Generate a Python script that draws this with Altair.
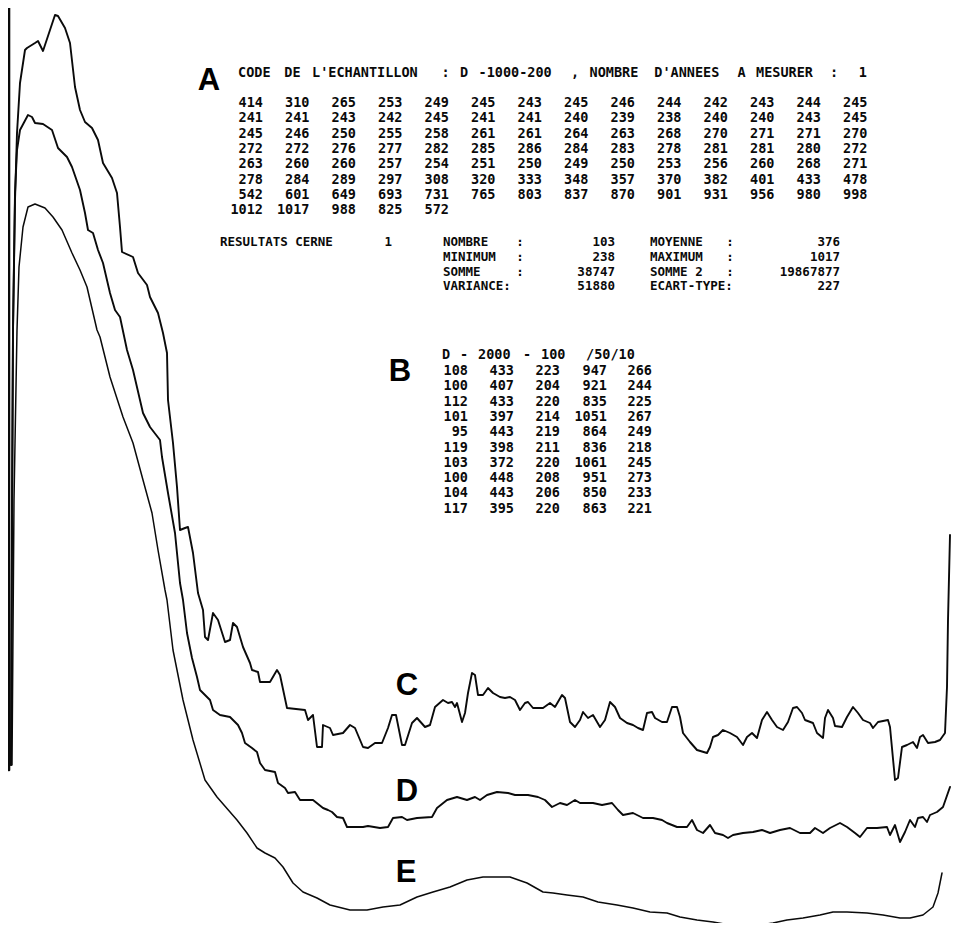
import re
import altair as alt
import pandas as pd

# ---------------- data ----------------
# densitometer traces: (position along the sample, pen position on the chart paper, counted downward)
trace_C = [(11, 765), (12, 500), (13, 330), (15, 200), (17, 133), (20, 83), (25, 50), (27, 48), (35, 43),
           (38, 41), (43, 51), (50, 30), (55, 15), (58, 16), (65, 28), (70, 43), (75, 87), (80, 110),
           (85, 122), (92, 128), (98, 140), (103, 163), (112, 178), (117, 193), (120, 227), (122, 252),
           (133, 257), (138, 273), (147, 285), (150, 297), (158, 313), (163, 333), (167, 353), (168, 400),
           (173, 443), (177, 487), (180, 530), (185, 528), (188, 527), (193, 553), (198, 593), (203, 610),
           (205, 637), (208, 640), (213, 613), (218, 620), (225, 642), (230, 640), (233, 623), (237, 627),
           (243, 647), (250, 663), (252, 670), (258, 672), (260, 682), (270, 682), (277, 670), (280, 675),
           (287, 708), (305, 710), (308, 720), (313, 715), (317, 747), (322, 747), (323, 725), (330, 728),
           (333, 735), (343, 733), (350, 725), (355, 728), (363, 747), (368, 748), (375, 743), (382, 743),
           (388, 728), (392, 715), (396, 715), (402, 745), (405, 745), (412, 723), (417, 718), (425, 727),
           (430, 725), (435, 707), (443, 700), (448, 703), (452, 702), (455, 707), (457, 703), (462, 722),
           (465, 713), (468, 693), (472, 673), (475, 675), (478, 695), (483, 695), (488, 688), (493, 693),
           (500, 697), (505, 698), (510, 697), (515, 700), (520, 710), (525, 703), (528, 702), (533, 708),
           (543, 708), (550, 703), (555, 707), (562, 695), (565, 698), (570, 722), (575, 727), (580, 720),
           (583, 712), (588, 718), (593, 715), (600, 727), (605, 720), (610, 702), (615, 707), (620, 718),
           (627, 723), (633, 725), (638, 728), (643, 730), (647, 713), (652, 712), (655, 718), (662, 722),
           (667, 722), (672, 707), (677, 707), (680, 717), (683, 733), (690, 742), (697, 750), (707, 753),
           (710, 747), (713, 737), (718, 735), (723, 730), (730, 733), (737, 737), (743, 745), (747, 737),
           (752, 733), (757, 738), (762, 720), (767, 712), (772, 720), (777, 727), (783, 730), (788, 722),
           (793, 708), (797, 707), (802, 713), (805, 720), (813, 723), (817, 733), (823, 738), (825, 718),
           (828, 710), (833, 718), (835, 726), (842, 727), (847, 717), (853, 707), (858, 713), (863, 720),
           (870, 723), (873, 728), (878, 722), (888, 720), (890, 727), (895, 780), (898, 778), (902, 747),
           (907, 745), (913, 742), (917, 748), (920, 737), (923, 735), (928, 743), (935, 742), (940, 740),
           (945, 733), (947, 687), (948, 620), (950, 535)]

trace_D = [(11, 765), (13, 330), (15, 193), (17, 150), (20, 130), (28, 115), (32, 117), (35, 123), (43, 124),
           (52, 130), (58, 148), (67, 157), (72, 167), (80, 190), (85, 213), (88, 230), (93, 233), (98, 250),
           (103, 263), (110, 293), (115, 310), (120, 317), (127, 350), (133, 370), (143, 413), (150, 427),
           (160, 440), (162, 457), (168, 493), (175, 533), (180, 583), (183, 600), (187, 633), (192, 658),
           (197, 677), (200, 690), (210, 700), (213, 710), (220, 715), (230, 717), (238, 725), (242, 733),
           (245, 743), (252, 748), (257, 752), (260, 763), (265, 770), (275, 772), (278, 783), (285, 788),
           (288, 793), (295, 792), (300, 800), (313, 800), (323, 808), (328, 810), (332, 812), (337, 817),
           (343, 818), (347, 827), (357, 827), (363, 827), (368, 826), (380, 828), (388, 827), (393, 818),
           (402, 817), (407, 820), (417, 818), (432, 817), (437, 808), (447, 800), (457, 797), (467, 800),
           (475, 797), (480, 800), (487, 795), (497, 792), (508, 793), (515, 795), (528, 795), (538, 797),
           (545, 800), (552, 807), (560, 803), (567, 805), (575, 800), (580, 803), (593, 803), (602, 805),
           (612, 803), (618, 810), (623, 815), (633, 813), (643, 818), (653, 818), (662, 820), (667, 823),
           (677, 827), (687, 827), (692, 820), (697, 830), (703, 833), (710, 825), (715, 833), (723, 835),
           (728, 838), (733, 835), (743, 833), (753, 832), (762, 830), (770, 833), (780, 830), (790, 828),
           (800, 833), (810, 833), (815, 828), (823, 833), (830, 828), (840, 823), (847, 827), (855, 833),
           (860, 837), (867, 828), (877, 828), (887, 827), (890, 835), (895, 825), (900, 842), (905, 832),
           (910, 820), (915, 827), (918, 818), (923, 817), (927, 822), (930, 815), (937, 812), (943, 807),
           (950, 787)]

trace_E = [(12, 765), (14, 500), (17, 330), (19, 267), (23, 227), (28, 207), (35, 204), (45, 208), (53, 217),
           (62, 230), (72, 253), (80, 270), (87, 287), (97, 330), (100, 337), (110, 377), (123, 417),
           (133, 443), (143, 480), (152, 513), (158, 550), (165, 590), (167, 600), (173, 650), (183, 700),
           (193, 740), (205, 780), (217, 797), (237, 820), (247, 833), (257, 848), (265, 853), (275, 858),
           (283, 867), (293, 883), (303, 892), (317, 898), (330, 905), (350, 910), (367, 910), (383, 907),
           (400, 905), (417, 897), (433, 892), (450, 887), (467, 880), (483, 877), (510, 877), (527, 883),
           (543, 892), (553, 893), (567, 895), (583, 897), (598, 902), (617, 905), (633, 908), (650, 912),
           (667, 913), (680, 917), (697, 920), (713, 922), (730, 925), (743, 925), (760, 925), (773, 923),
           (787, 920), (803, 918), (820, 915), (833, 912), (847, 912), (867, 913), (883, 915), (900, 918),
           (910, 918), (923, 915), (933, 907), (938, 893), (942, 873)]

start_marker = [(9, 8), (9, 770)]

# printed listing (A)
A_header = "CODE DE L'ECHANTILLON : D -1000-200 , NOMBRE D'ANNEES A MESURER :"
A_header_value = "1"
A_values = [
    [414, 310, 265, 253, 249, 245, 243, 245, 246, 244, 242, 243, 244, 245],
    [241, 241, 243, 242, 245, 241, 241, 240, 239, 238, 240, 240, 243, 245],
    [245, 246, 250, 255, 258, 261, 261, 264, 263, 268, 270, 271, 271, 270],
    [272, 272, 276, 277, 282, 285, 286, 284, 283, 278, 281, 281, 280, 272],
    [263, 260, 260, 257, 254, 251, 250, 249, 250, 253, 256, 260, 268, 271],
    [278, 284, 289, 297, 308, 320, 333, 348, 357, 370, 382, 401, 433, 478],
    [542, 601, 649, 693, 731, 765, 803, 837, 870, 901, 931, 956, 980, 998],
    [1012, 1017, 988, 825, 572],
]
res_title = "RESULTATS CERNE"
res_ring = "1"
res_left_labels = ["NOMBRE", "MINIMUM", "SOMME", "VARIANCE:"]
res_left_colons = [":", ":", ":", ""]
res_left_values = ["103", "238", "38747", "51880"]
res_right_labels = ["MOYENNE", "MAXIMUM", "SOMME 2", "ECART-TYPE:"]
res_right_colons = [":", ":", ":", ""]
res_right_values = ["376", "1017", "19867877", "227"]

# printed listing (B)
B_header = "D - 2000 - 100  /50/10"
B_values = [
    [108, 433, 223, 947, 266],
    [100, 407, 204, 921, 244],
    [112, 433, 220, 835, 225],
    [101, 397, 214, 1051, 267],
    [95, 443, 219, 864, 249],
    [119, 398, 211, 836, 218],
    [103, 372, 220, 1061, 245],
    [100, 448, 208, 951, 273],
    [104, 443, 206, 850, 233],
    [117, 395, 220, 863, 221],
]
panel_letters = ["A", "B", "C", "D", "E"]

# ---------------- layout (positions on the sheet) ----------------
PITCH = 9.25
A_head_x, A_head_y, A_head_val_x = 238, 73, 867
A_col0, A_col_step, A_row0, A_row_step = 263, 46.5, 103, 15.35
RES_x, RES_ring_x, RES_rows = 220, 392, [242, 257, 272, 286]
RES_L_label, RES_L_colon, RES_L_val = 443, 520, 615
RES_R_label, RES_R_colon, RES_R_val = 650, 730, 840
B_head_x, B_head_y, B_pitch = 442, 355, 9.0
B_cols, B_row0, B_row_step = [468, 514, 560, 607, 652], 371, 15.3
letter_pos = [(209, 81), (400, 372), (407, 686), (407, 792), (406, 873)]

# ---------------- tables ----------------
rows = []
for name, tr, w in [("start", start_marker, 2.6), ("C", trace_C, 1.9), ("D", trace_D, 1.9), ("E", trace_E, 1.5)]:
    for i, (px, py) in enumerate(tr):
        rows.append({"series": name, "i": i, "pos": px, "pen": py, "w": w})
curves = pd.DataFrame(rows)

left_txt, right_txt, center_txt = [], [], []
res_left, res_right, res_center = [], [], []
for m in re.finditer(r"\S+", A_header):
    left_txt.append({"t": m.group(), "x": A_head_x + m.start() * PITCH, "y": A_head_y})
right_txt.append({"t": A_header_value, "x": A_head_val_x, "y": A_head_y})
for r, vals in enumerate(A_values):
    for c, v in enumerate(vals):
        right_txt.append({"t": str(v), "x": A_col0 + c * A_col_step, "y": A_row0 + r * A_row_step})
res_left.append({"t": res_title, "x": RES_x, "y": RES_rows[0]})
res_right.append({"t": res_ring, "x": RES_ring_x, "y": RES_rows[0]})
for k, y in enumerate(RES_rows):
    res_left.append({"t": res_left_labels[k], "x": RES_L_label, "y": y})
    res_left.append({"t": res_right_labels[k], "x": RES_R_label, "y": y})
    if res_left_colons[k]:
        res_center.append({"t": res_left_colons[k], "x": RES_L_colon, "y": y})
    if res_right_colons[k]:
        res_center.append({"t": res_right_colons[k], "x": RES_R_colon, "y": y})
    res_right.append({"t": res_left_values[k], "x": RES_L_val, "y": y})
    res_right.append({"t": res_right_values[k], "x": RES_R_val, "y": y})
for m in re.finditer(r"\S+", B_header):
    left_txt.append({"t": m.group(), "x": B_head_x + m.start() * B_pitch, "y": B_head_y})
for r, vals in enumerate(B_values):
    for c, v in enumerate(vals):
        right_txt.append({"t": str(v), "x": B_cols[c], "y": B_row0 + r * B_row_step})
letters = pd.DataFrame([{"t": t, "x": p[0], "y": p[1]} for t, p in zip(panel_letters, letter_pos)])

xs = alt.Scale(domain=[8, 952])
ys = alt.Scale(domain=[8, 923], reverse=True)
MONO = "DejaVu Sans Mono"

lines = alt.Chart(curves).mark_line(color="#0a0a0a", strokeJoin="round", strokeCap="round").encode(
    x=alt.X("pos:Q", scale=xs, axis=None),
    y=alt.Y("pen:Q", scale=ys, axis=None),
    detail="series:N",
    order="i:Q",
    strokeWidth=alt.StrokeWidth("w:Q", scale=None, legend=None),
)

def txt(df, align, size=13.5):
    return alt.Chart(pd.DataFrame(df)).mark_text(
        align=align, baseline="middle", font=MONO, fontWeight="bold", fontSize=size, color="#0a0a0a"
    ).encode(x=alt.X("x:Q", scale=xs, axis=None), y=alt.Y("y:Q", scale=ys, axis=None), text="t:N")

big = alt.Chart(letters).mark_text(
    align="center", baseline="middle", font="Liberation Sans", fontWeight="bold", fontSize=31, color="#000000"
).encode(x=alt.X("x:Q", scale=xs, axis=None), y=alt.Y("y:Q", scale=ys, axis=None), text="t:N")

chart = alt.layer(
    lines,
    txt(left_txt, "left"), txt(right_txt, "right"),
    txt(res_left, "left", 12.5), txt(res_right, "right", 12.5), txt(res_center, "center", 12.5),
    big,
).properties(
    width=944, height=915, autosize=alt.AutoSizeParams(type="none"), padding=0, background="white"
).configure_view(strokeWidth=0)

chart.save("out.html", embed_options={"renderer": "svg", "actions": False})
